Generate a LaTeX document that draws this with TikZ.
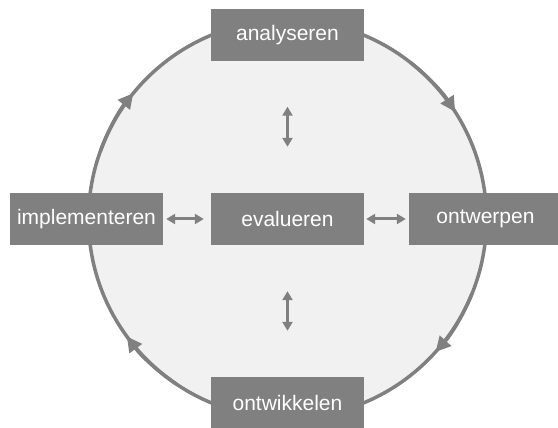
\documentclass[tikz,border=0pt]{standalone}
\usepackage{fontspec}
\setmainfont{Liberation Sans}
\usetikzlibrary{arrows.meta}
\definecolor{boxgrey}{HTML}{808080}
\definecolor{ringfill}{HTML}{F1F1F1}

\begin{document}
\begin{tikzpicture}[x=1pt,y=1pt,>={Triangle[length=9pt,width=10pt]}]

	\tikzstyle{phase}=[rectangle,fill=boxgrey,text=white,minimum width=153pt,minimum height=52pt,inner sep=0pt,font=\fontsize{21}{25}\selectfont]
	\tikzstyle{ring}=[circle,draw=boxgrey,fill=ringfill,line width=3.5pt,minimum size=398pt,inner sep=0pt,outer sep=0pt]
	\tikzstyle{flow}=[draw=boxgrey,line width=3.5pt,-{Triangle[length=15pt,width=15pt]}]
	\tikzstyle{link}=[draw=boxgrey,line width=3pt,<->]

	\useasboundingbox (0,0) rectangle (558,428);
	\node [ring] (cycle) at (287.5,209) {};
	\node [phase] (eval) at (287.5,209) {evalueren};
	\node [phase,node distance=183.5pt] (anal) [above of=eval] {analyseren};
	\node [phase,node distance=184pt] (dev) [below of=eval] {ontwikkelen};
	\node [phase,node distance=201pt] (impl) [left of=eval] {implementeren};
	\node [phase,node distance=198pt] (design) [right of=eval] {ontwerpen};

	% richting van de cyclus
	\draw [flow] (cycle.52) arc[start angle=52,end angle=32.6,radius=199pt];
	\draw [flow] (cycle.-22) arc[start angle=-22,end angle=-41.9,radius=199pt];
	\draw [flow] (cycle.236) arc[start angle=236,end angle=216.2,radius=199pt];
	\draw [flow] (cycle.160) arc[start angle=160,end angle=140.8,radius=199pt];

	% evalueren tegenover elke fase
	\draw [link,shorten <=45pt,shorten >=46pt] (anal) -- (eval);
	\draw [link,shorten <=46pt,shorten >=46pt] (eval) -- (dev);
	\draw [link,shorten <=3pt,shorten >=7pt] (impl) -- (eval);
	\draw [link,shorten <=2pt,shorten >=3pt] (eval) -- (design);
\end{tikzpicture}
\end{document}
